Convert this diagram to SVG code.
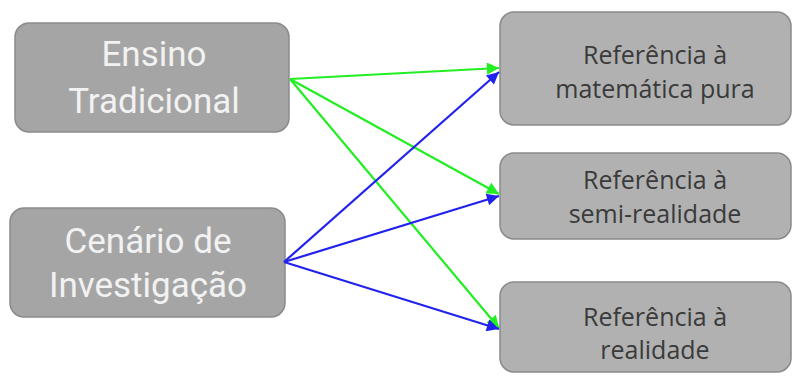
<svg xmlns="http://www.w3.org/2000/svg" width="793" height="376" viewBox="0 0 793 376">
<style>
.l{fill:#a5a5a5;stroke:#8a8a8a;stroke-width:1.5}
.r{fill:#b1b1b1;stroke:#8a8a8a;stroke-width:1.5}
.lt{font-family:Roboto,"Liberation Sans",sans-serif;font-size:35px;fill:#f2f2f2;text-anchor:middle}
.rt{font-family:"Open Sans",Lato,sans-serif;font-size:25px;fill:#3a3a3a;text-anchor:middle}
.g{stroke:#22ee22;stroke-width:2.2;fill:none}
.b{stroke:#2222ee;stroke-width:2.2;fill:none}
</style>
<defs>
<marker id="ag" viewBox="0 0 10 10" refX="10" refY="5" markerWidth="7" markerHeight="5.5" markerUnits="strokeWidth" orient="auto"><path d="M0,0L10,5L0,10z" fill="#22ee22"/></marker>
<marker id="ab" viewBox="0 0 10 10" refX="10" refY="5" markerWidth="7" markerHeight="5.5" markerUnits="strokeWidth" orient="auto"><path d="M0,0L10,5L0,10z" fill="#2222ee"/></marker>
</defs>
<rect width="793" height="376" fill="#ffffff"/>
<g id="n1"><rect class="l" x="15" y="23" width="274" height="109" rx="14"/><text class="lt" x="154" y="66">Ensino</text><text class="lt" x="154" y="113">Tradicional</text></g>
<g id="n2"><rect class="l" x="10" y="208" width="275" height="109" rx="14"/><text class="lt" x="148" y="253">Cenário de</text><text class="lt" x="148" y="297">Investigação</text></g>
<g id="n3"><rect class="r" x="500" y="12" width="291" height="113" rx="14"/><text class="rt" x="655" y="64">Referência à</text><text class="rt" x="655" y="98">matemática pura</text></g>
<g id="n4"><rect class="r" x="500" y="153" width="291" height="86" rx="14"/><text class="rt" x="655" y="189">Referência à</text><text class="rt" x="655" y="223">semi-realidade</text></g>
<g id="n5"><rect class="r" x="500" y="282" width="291" height="90" rx="14"/><text class="rt" x="655" y="326">Referência à</text><text class="rt" x="655" y="359">realidade</text></g>
<g id="edges">
<line class="g" x1="290" y1="79" x2="499" y2="68" marker-end="url(#ag)"/>
<line class="g" x1="290" y1="79" x2="499" y2="194" marker-end="url(#ag)"/>
<line class="g" x1="290" y1="79" x2="499" y2="328" marker-end="url(#ag)"/>
<line class="b" x1="284" y1="262" x2="499" y2="72" marker-end="url(#ab)"/>
<line class="b" x1="284" y1="262" x2="499" y2="196" marker-end="url(#ab)"/>
<line class="b" x1="284" y1="262" x2="499" y2="329" marker-end="url(#ab)"/>
</g>
</svg>
